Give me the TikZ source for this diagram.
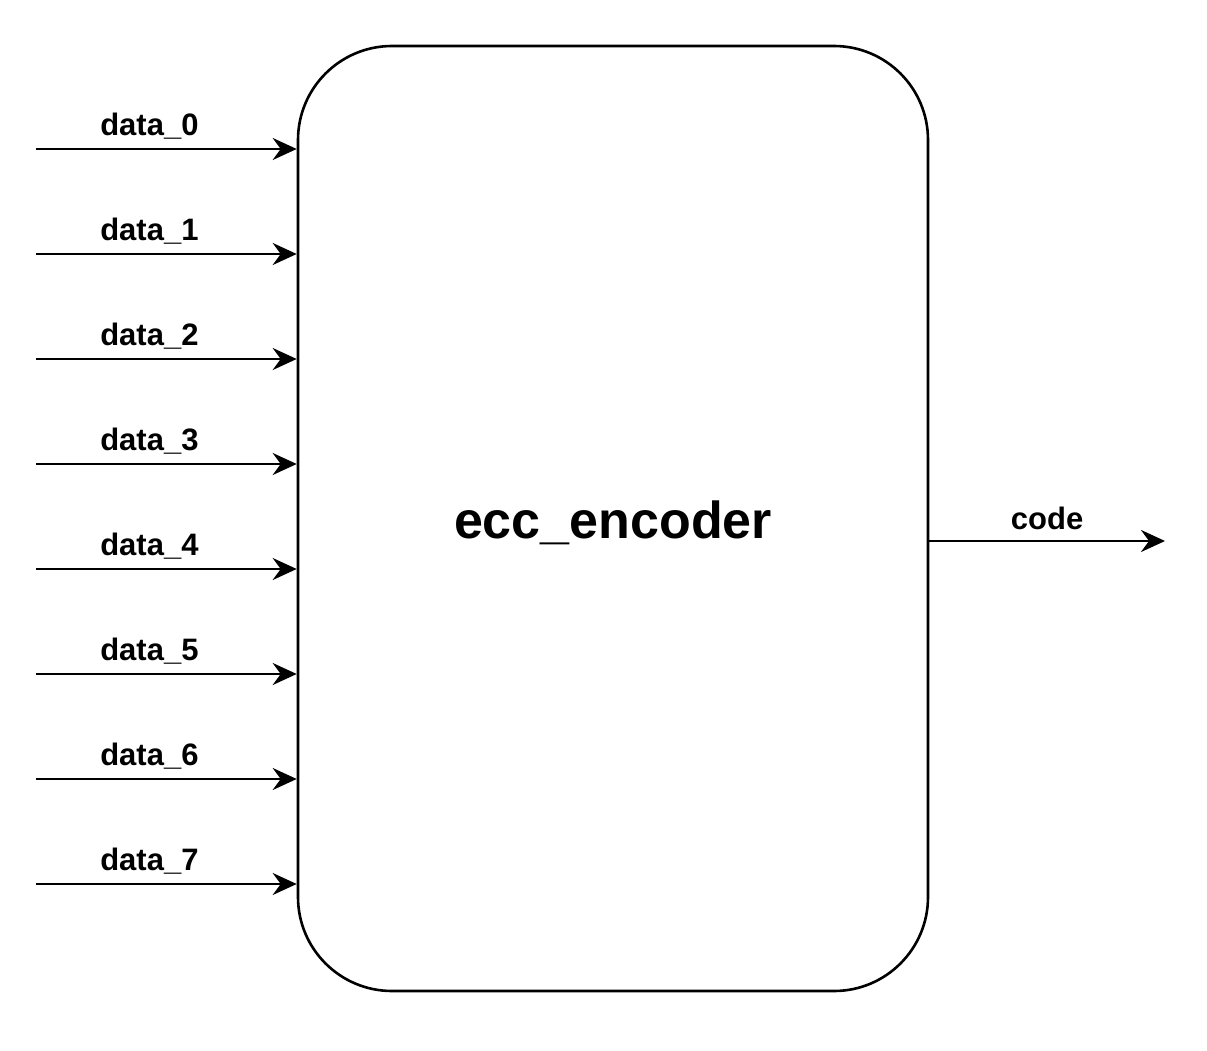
\documentclass[tikz,border=0pt]{standalone}
\usepackage{fontspec}
\setmainfont{Liberation Sans}
\usepackage{tikz}
\usetikzlibrary{positioning,arrows.meta}

\begin{document}
\begin{tikzpicture}[x=1pt, y=-1pt,
        sig/.style={line width=2.6pt, -{Stealth[length=24pt, width=22pt, inset=8pt]}},
        lbl/.style={anchor=base, yshift=13.5pt, inner sep=0pt, font=\fontsize{31}{37}\selectfont\bfseries},
        block/.style={draw, line width=2.6pt, rounded corners=94pt, minimum width=630pt, minimum height=945pt, font=\fontsize{52}{62}\selectfont\bfseries}]
        \useasboundingbox (0,0) rectangle (1207,1051);

        \node[block] (enc) at (613,518.5) {};
        \node[font=\fontsize{52}{62}\selectfont\bfseries] (title) at (613,523) {ecc\_encoder};

        % inputs
        \coordinate (d0) at (36,149);
        \coordinate (d1) at (36,254);
        \coordinate (d2) at (36,359);
        \coordinate (d3) at (36,464);
        \coordinate (d4) at (36,569);
        \coordinate (d5) at (36,674);
        \coordinate (d6) at (36,779);
        \coordinate (d7) at (36,884);
        \draw[sig] (d0) -- (d0 -| enc.west) node[lbl, pos=0.435] {data\_0};
        \draw[sig] (d1) -- (d1 -| enc.west) node[lbl, pos=0.435] {data\_1};
        \draw[sig] (d2) -- (d2 -| enc.west) node[lbl, pos=0.435] {data\_2};
        \draw[sig] (d3) -- (d3 -| enc.west) node[lbl, pos=0.435] {data\_3};
        \draw[sig] (d4) -- (d4 -| enc.west) node[lbl, pos=0.435] {data\_4};
        \draw[sig] (d5) -- (d5 -| enc.west) node[lbl, pos=0.435] {data\_5};
        \draw[sig] (d6) -- (d6 -| enc.west) node[lbl, pos=0.435] {data\_6};
        \draw[sig] (d7) -- (d7 -| enc.west) node[lbl, pos=0.435] {data\_7};

        % output
        \coordinate (out) at (1165,541);
        \draw[sig] (out -| enc.east) -- (out) node[lbl, midway, yshift=-2pt] {code};
    \end{tikzpicture}
\end{document}
